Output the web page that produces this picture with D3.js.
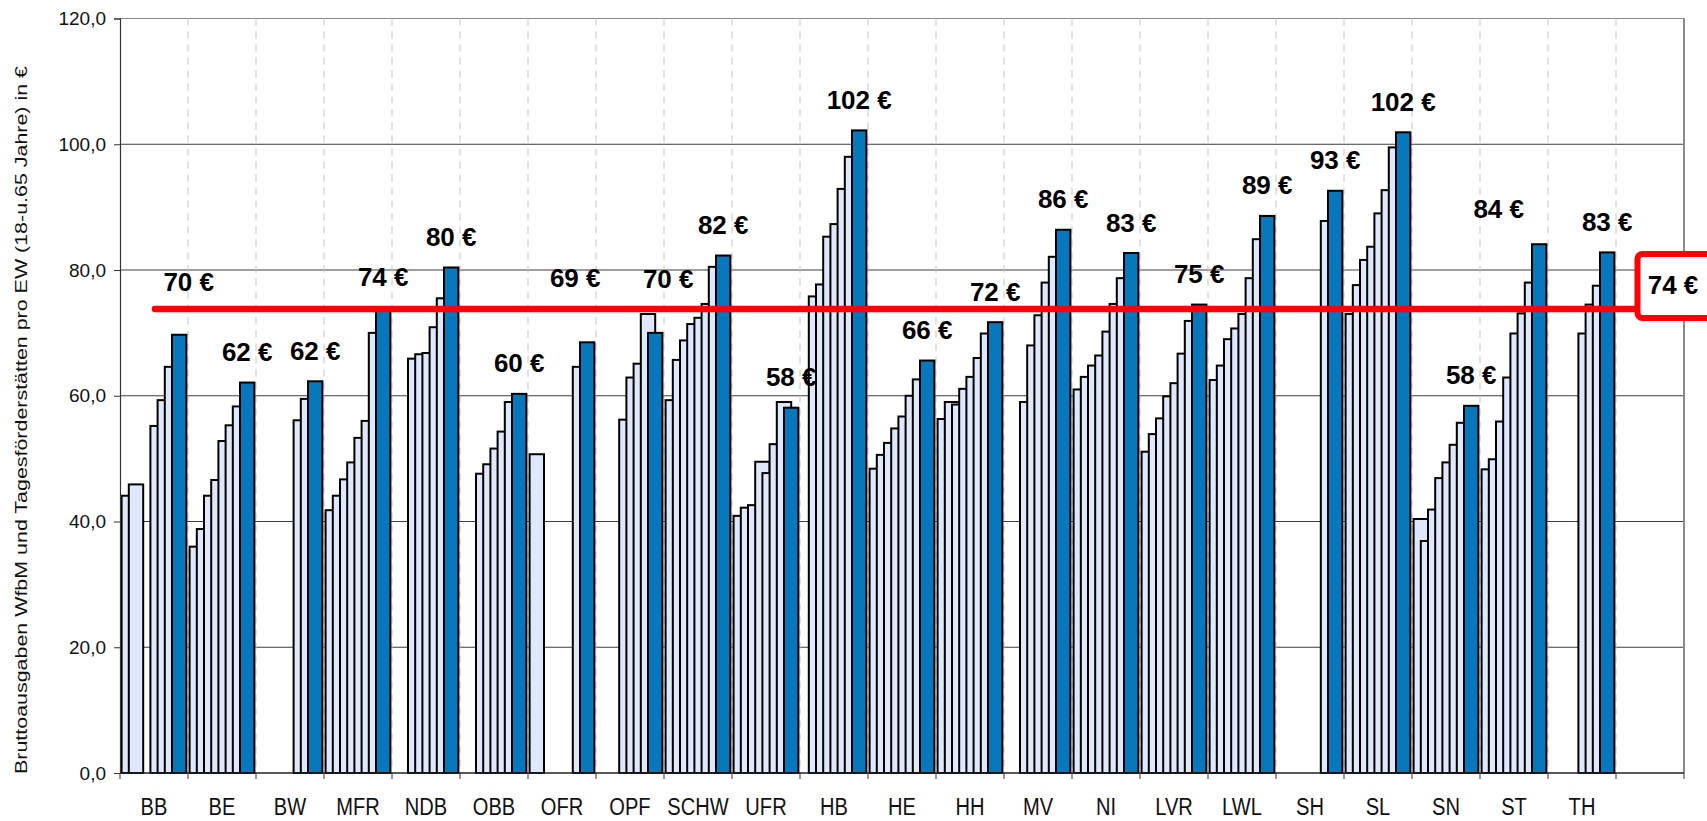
<!DOCTYPE html>
<html>
<head>
<meta charset="utf-8">
<script src="https://cdn.jsdelivr.net/npm/d3@7"></script>
<style>
  html, body { margin: 0; padding: 0; background: #ffffff; }
  svg { display: block; }
  text { font-family: "Liberation Sans", Arial, sans-serif; }
</style>
</head>
<body>
<svg id="chart" width="1707" height="821"></svg>
<script>
// ---------------- DATA ----------------
const categories = ["BB","BE","BW","MFR","NDB","OBB","OFR","OPF","SCHW","UFR","HB","HE","HH","MV","NI","LVR","LWL","SH","SL","SN","ST","TH"];

// seven earlier years (light bars) and the latest year (dark bar); null = no value
const year1 = [44.1, 36.0, null, 41.8, null, null, 50.7, null, 59.3, 40.9, null, 48.4, 56.3, null, 61.0, 51.1, 62.5, null, 73.0, 40.4, 48.3, null];
const year2 = [45.9, 38.8, null, 44.1, null, null, null, null, 65.7, 42.2, 75.8, 50.6, 59.0, null, 63.0, 53.9, 64.8, null, 77.6, 36.9, 49.9, null];
const year3 = [null, 44.1, null, 46.7, 65.9, 47.6, null, null, 68.8, 42.6, 77.7, 52.5, 58.6, 59.0, 64.8, 56.4, 69.0, null, 81.6, 41.9, 55.9, null];
const year4 = [null, 46.6, null, 49.4, 66.6, 49.1, null, 56.2, 71.4, 49.5, 85.3, 54.8, 61.1, 68.0, 66.4, 59.9, 70.7, null, 83.7, 46.9, 62.9, null];
const year5 = [55.2, 52.8, null, 53.3, 66.8, 51.6, null, 62.9, 72.4, 47.7, 87.3, 56.7, 63.0, 72.8, 70.2, 62.0, 73.0, null, 89.0, 49.4, 69.9, 69.9];
const year6 = [59.3, 55.3, 56.1, 56.0, 70.9, 54.3, null, 65.1, 74.6, 52.3, 92.9, 60.0, 66.0, 78.0, 74.6, 66.7, 78.7, null, 92.7, 52.2, 73.1, 74.5];
const year7 = [64.6, 58.3, 59.5, 70.0, 75.5, 59.0, 64.6, 73.0, 80.5, 59.0, 98.0, 62.6, 69.9, 82.1, 78.7, 71.9, 84.9, 87.8, 99.5, 55.7, 78.0, 77.5];
const latest = [69.7, 62.1, 62.3, 74.0, 80.4, 60.3, 68.5, 70.0, 82.3, 58.1, 102.2, 65.6, 71.7, 86.4, 82.7, 74.5, 88.6, 92.6, 101.9, 58.4, 84.1, 82.8];

const seriesList = [year1, year2, year3, year4, year5, year6, year7, latest];

const average = 73.8;
const averageLabel = "74 €";
const yTicks = [0, 20, 40, 60, 80, 100, 120];
const yTitle = "Bruttoausgaben WfbM und Tagesförderstätten pro  EW (18-u.65 Jahre) in €";

// label nudges (px) for value labels moved away from the average line
const labelNudge = { BB: [9.5, -22], OFR: [-12, -33.5], OPF: [13, -23], ST: [-40.5, -5] };

// ---------------- LAYOUT ----------------
const svg = d3.select("#chart");
const plotLeft = 120, plotRight = 1684, plotTop = 18.5, plotBottom = 773;

const x = d3.scaleBand().domain([...categories, " "]).range([plotLeft, plotRight]).paddingInner(0).paddingOuter(0);
const bw = x.bandwidth();
const pad = bw * 1.6 / 68;
const xi = d3.scaleLinear().domain([0, 9]).range([pad, bw - pad]);
const y = d3.scaleLinear().domain([0, 120]).range([plotBottom, plotTop]);

const locale = d3.formatLocale({ decimal: ",", thousands: ".", grouping: [3], currency: ["", " €"] });
const fmt1 = locale.format(".1f");

// horizontal gridlines
svg.append("g").selectAll("line").data(yTicks.filter(t => t > 0)).join("line")
  .attr("x1", plotLeft).attr("x2", plotRight)
  .attr("y1", d => y(d)).attr("y2", d => y(d))
  .attr("stroke", d => d === 120 ? "#8a8a8a" : "#3c3c3c").attr("stroke-width", 1);

// vertical dashed gridlines at category boundaries
svg.append("g").selectAll("line").data(x.domain().slice(1)).join("line")
  .attr("x1", d => x(d)).attr("x2", d => x(d))
  .attr("y1", plotTop).attr("y2", plotBottom)
  .attr("stroke", "#c4c4c4").attr("stroke-width", 1).attr("stroke-dasharray", "7,6");

// right border
svg.append("line").attr("x1", plotRight).attr("x2", plotRight).attr("y1", plotTop).attr("y2", plotBottom)
  .attr("stroke", "#8a8a8a").attr("stroke-width", 2);

// bars
const barData = [];
categories.forEach((c, ci) => {
  seriesList.forEach((s, si) => {
    if (s[ci] != null) barData.push({ cat: c, si, v: s[ci] });
  });
});
svg.append("g").selectAll("rect").data(barData).join("rect")
  .attr("x", d => x(d.cat) + xi(d.si))
  .attr("width", d => xi(d.si + 2) - xi(d.si))
  .attr("y", d => y(d.v))
  .attr("height", d => y(0) - y(d.v))
  .attr("fill", d => d.si === 7 ? "#0778bc" : "#dfe8fa")
  .attr("stroke", "#000").attr("stroke-width", 2);

// y axis
const yAxis = svg.append("g").attr("transform", `translate(${plotLeft},0)`)
  .call(d3.axisLeft(y).tickValues(yTicks).tickFormat(fmt1).tickSize(6).tickPadding(8));
yAxis.select(".domain").attr("stroke", "#333").attr("stroke-width", 1.2);
yAxis.selectAll(".tick line").attr("stroke", "#333");
yAxis.selectAll(".tick text").attr("font-size", 19).attr("fill", "#111")
  .attr("font-family", "'Liberation Sans', Arial, sans-serif");

// x axis line and boundary ticks
svg.append("line").attr("x1", plotLeft).attr("x2", plotRight).attr("y1", plotBottom).attr("y2", plotBottom)
  .attr("stroke", "#222").attr("stroke-width", 1.5);
svg.append("g").selectAll("line").data([...x.domain(), null]).join("line")
  .attr("x1", d => d == null ? plotRight : x(d)).attr("x2", d => d == null ? plotRight : x(d))
  .attr("y1", plotBottom).attr("y2", plotBottom + 6)
  .attr("stroke", "#333").attr("stroke-width", 1);

// category labels
svg.append("g").selectAll("text").data(categories).join("text")
  .attr("transform", d => `translate(${x(d) + bw / 2},${plotBottom + 42}) scale(0.82,1)`)
  .attr("text-anchor", "middle").attr("font-size", 24.5).attr("fill", "#111")
  .text(d => d);

// average line
svg.append("line")
  .attr("x1", 155).attr("x2", 1640)
  .attr("y1", y(average)).attr("y2", y(average))
  .attr("stroke", "#ff0000").attr("stroke-width", 6.5).attr("stroke-linecap", "round");

// value labels above latest bars
svg.append("g").selectAll("text").data(categories).join("text")
  .attr("x", (d) => x(d) + xi(7) + (xi(9) - xi(7)) / 2 + (labelNudge[d] ? labelNudge[d][0] : 0))
  .attr("y", (d, i) => y(latest[i]) - 21.5 + (labelNudge[d] ? labelNudge[d][1] : 0))
  .attr("text-anchor", "middle").attr("font-size", 26).attr("font-weight", "bold").attr("fill", "#000")
  .text((d, i) => Math.round(latest[i]) + " €");

// average box
const ya = y(average);
svg.append("rect").attr("x", 1637.5).attr("y", ya - 55).attr("width", 80).attr("height", 64)
  .attr("rx", 5).attr("fill", "#fff").attr("stroke", "#ff0000").attr("stroke-width", 6);
svg.append("text").attr("x", 1673).attr("y", ya - 15).attr("text-anchor", "middle")
  .attr("font-size", 26).attr("font-weight", "bold").text(averageLabel);

// y title
svg.append("text")
  .attr("transform", `translate(27,420) rotate(-90)`)
  .attr("text-anchor", "middle").attr("font-size", 16.5).attr("fill", "#111")
  .attr("textLength", 708).attr("lengthAdjust", "spacingAndGlyphs")
  .text(yTitle);
</script>
</body>
</html>
